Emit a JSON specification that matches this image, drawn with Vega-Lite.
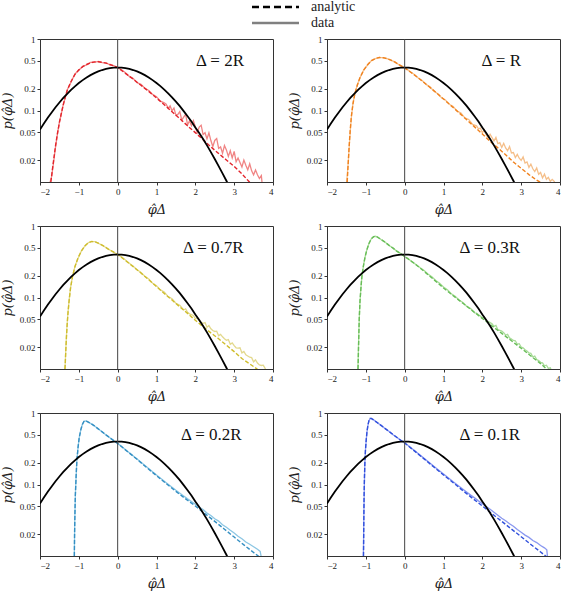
{
"$schema":"https://vega.github.io/schema/vega-lite/v6.json",
"padding":{"left":0,"top":0,"right":0,"bottom":0},
"spacing":4,
"config":{"font":"Liberation Serif","view":{"stroke":"#333","strokeWidth":1},
"axis":{"grid":false,"labelFontSize":9,"labelColor":"#222","titleFont":"DejaVu Serif","titleFontSize":13,"titleFontWeight":"normal","titleFontStyle":"italic","titleColor":"#222","domainColor":"#333","tickColor":"#333","tickSize":3,"labelPadding":2},
"axisX":{"titlePadding":7},"axisY":{"titlePadding":5}},
"datasets":{
"gauss":[{"x":-2.0,"y":0.054},{"x":-1.9,"y":0.0656},{"x":-1.8,"y":0.079},{"x":-1.7,"y":0.094},{"x":-1.6,"y":0.1109},{"x":-1.5,"y":0.1295},{"x":-1.4,"y":0.1497},{"x":-1.3,"y":0.1714},{"x":-1.2,"y":0.1942},{"x":-1.1,"y":0.2179},{"x":-1.0,"y":0.242},{"x":-0.9,"y":0.2661},{"x":-0.8,"y":0.2897},{"x":-0.7,"y":0.3123},{"x":-0.6,"y":0.3332},{"x":-0.5,"y":0.3521},{"x":-0.4,"y":0.3683},{"x":-0.3,"y":0.3814},{"x":-0.2,"y":0.391},{"x":-0.1,"y":0.397},{"x":0.0,"y":0.3989},{"x":0.1,"y":0.397},{"x":0.2,"y":0.391},{"x":0.3,"y":0.3814},{"x":0.4,"y":0.3683},{"x":0.5,"y":0.3521},{"x":0.6,"y":0.3332},{"x":0.7,"y":0.3123},{"x":0.8,"y":0.2897},{"x":0.9,"y":0.2661},{"x":1.0,"y":0.242},{"x":1.1,"y":0.219},{"x":1.2,"y":0.196},{"x":1.3,"y":0.174},{"x":1.4,"y":0.153},{"x":1.5,"y":0.133},{"x":1.6,"y":0.115},{"x":1.7,"y":0.098},{"x":1.8,"y":0.083},{"x":1.9,"y":0.07},{"x":2.0,"y":0.058},{"x":2.1,"y":0.0485},{"x":2.2,"y":0.04},{"x":2.3,"y":0.0325},{"x":2.4,"y":0.0262},{"x":2.5,"y":0.021},{"x":2.6,"y":0.0167},{"x":2.7,"y":0.0132},{"x":2.8,"y":0.0104},{"x":2.9,"y":0.0081}],
"labels":[{"p":"2R","x":2.02,"y":0.5,"t":"Δ = 2R"},{"p":"R","x":1.98,"y":0.5,"t":"Δ = R"},{"p":"0.7R","x":1.68,"y":0.5,"t":"Δ = 0.7R"},{"p":"0.3R","x":1.41,"y":0.5,"t":"Δ = 0.3R"},{"p":"0.2R","x":1.63,"y":0.5,"t":"Δ = 0.2R"},{"p":"0.1R","x":1.41,"y":0.5,"t":"Δ = 0.1R"}],
"curves":[
{"p":"2R","k":"a","x":-1.72,"y":0.01},{"p":"2R","k":"a","x":-1.68,"y":0.015},{"p":"2R","k":"a","x":-1.64,"y":0.022},{"p":"2R","k":"a","x":-1.6,"y":0.032},{"p":"2R","k":"a","x":-1.55,"y":0.048},{"p":"2R","k":"a","x":-1.5,"y":0.068},{"p":"2R","k":"a","x":-1.45,"y":0.092},{"p":"2R","k":"a","x":-1.4,"y":0.12},{"p":"2R","k":"a","x":-1.35,"y":0.155},{"p":"2R","k":"a","x":-1.3,"y":0.19},{"p":"2R","k":"a","x":-1.2,"y":0.255},{"p":"2R","k":"a","x":-1.1,"y":0.32},{"p":"2R","k":"a","x":-1.0,"y":0.37},{"p":"2R","k":"a","x":-0.9,"y":0.41},{"p":"2R","k":"a","x":-0.8,"y":0.44},{"p":"2R","k":"a","x":-0.7,"y":0.465},{"p":"2R","k":"a","x":-0.6,"y":0.478},{"p":"2R","k":"a","x":-0.5,"y":0.48},{"p":"2R","k":"a","x":-0.4,"y":0.473},{"p":"2R","k":"a","x":-0.3,"y":0.46},{"p":"2R","k":"a","x":-0.2,"y":0.44},{"p":"2R","k":"a","x":-0.1,"y":0.42},{"p":"2R","k":"a","x":0.0,"y":0.4},{"p":"2R","k":"a","x":0.2,"y":0.33},{"p":"2R","k":"a","x":0.4,"y":0.275},{"p":"2R","k":"a","x":0.6,"y":0.225},{"p":"2R","k":"a","x":0.8,"y":0.185},{"p":"2R","k":"a","x":1.0,"y":0.15},{"p":"2R","k":"a","x":1.2,"y":0.12},{"p":"2R","k":"a","x":1.4,"y":0.096},{"p":"2R","k":"a","x":1.6,"y":0.077},{"p":"2R","k":"a","x":1.8,"y":0.061},{"p":"2R","k":"a","x":2.0,"y":0.049},{"p":"2R","k":"a","x":2.2,"y":0.039},{"p":"2R","k":"a","x":2.4,"y":0.031},{"p":"2R","k":"a","x":2.6,"y":0.025},{"p":"2R","k":"a","x":2.8,"y":0.0203},{"p":"2R","k":"a","x":3.0,"y":0.0165},{"p":"2R","k":"a","x":3.2,"y":0.013},{"p":"2R","k":"a","x":3.4,"y":0.0099},
{"p":"2R","k":"d","x":-1.75,"y":0.0095},{"p":"2R","k":"d","x":-1.7,"y":0.012},{"p":"2R","k":"d","x":-1.65,"y":0.019},{"p":"2R","k":"d","x":-1.6,"y":0.031},{"p":"2R","k":"d","x":-1.55,"y":0.047},{"p":"2R","k":"d","x":-1.5,"y":0.069},{"p":"2R","k":"d","x":-1.45,"y":0.09},{"p":"2R","k":"d","x":-1.4,"y":0.123},{"p":"2R","k":"d","x":-1.35,"y":0.15},{"p":"2R","k":"d","x":-1.3,"y":0.193},{"p":"2R","k":"d","x":-1.2,"y":0.25},{"p":"2R","k":"d","x":-1.1,"y":0.325},{"p":"2R","k":"d","x":-1.0,"y":0.365},{"p":"2R","k":"d","x":-0.9,"y":0.415},{"p":"2R","k":"d","x":-0.8,"y":0.435},{"p":"2R","k":"d","x":-0.7,"y":0.47},{"p":"2R","k":"d","x":-0.6,"y":0.472},{"p":"2R","k":"d","x":-0.5,"y":0.485},{"p":"2R","k":"d","x":-0.4,"y":0.468},{"p":"2R","k":"d","x":-0.3,"y":0.465},{"p":"2R","k":"d","x":-0.2,"y":0.435},{"p":"2R","k":"d","x":-0.1,"y":0.425},{"p":"2R","k":"d","x":0.0,"y":0.395},{"p":"2R","k":"d","x":0.1,"y":0.372},{"p":"2R","k":"d","x":0.2,"y":0.338},{"p":"2R","k":"d","x":0.3,"y":0.3},{"p":"2R","k":"d","x":0.4,"y":0.28},{"p":"2R","k":"d","x":0.5,"y":0.245},{"p":"2R","k":"d","x":0.6,"y":0.232},{"p":"2R","k":"d","x":0.7,"y":0.205},{"p":"2R","k":"d","x":0.8,"y":0.19},{"p":"2R","k":"d","x":0.9,"y":0.168},{"p":"2R","k":"d","x":1.0,"y":0.156},{"p":"2R","k":"d","x":1.1,"y":0.135},{"p":"2R","k":"d","x":1.2,"y":0.128},{"p":"2R","k":"d","x":1.25,"y":0.1226},{"p":"2R","k":"d","x":1.3,"y":0.1074},{"p":"2R","k":"d","x":1.35,"y":0.1166},{"p":"2R","k":"d","x":1.4,"y":0.0989},{"p":"2R","k":"d","x":1.45,"y":0.1086},{"p":"2R","k":"d","x":1.5,"y":0.0856},{"p":"2R","k":"d","x":1.55,"y":0.088},{"p":"2R","k":"d","x":1.6,"y":0.0966},{"p":"2R","k":"d","x":1.65,"y":0.0736},{"p":"2R","k":"d","x":1.7,"y":0.0809},{"p":"2R","k":"d","x":1.75,"y":0.0888},{"p":"2R","k":"d","x":1.8,"y":0.063},{"p":"2R","k":"d","x":1.85,"y":0.0717},{"p":"2R","k":"d","x":1.9,"y":0.0614},{"p":"2R","k":"d","x":1.95,"y":0.072},{"p":"2R","k":"d","x":2.0,"y":0.0592},{"p":"2R","k":"d","x":2.05,"y":0.0489},{"p":"2R","k":"d","x":2.1,"y":0.0586},{"p":"2R","k":"d","x":2.15,"y":0.0623},{"p":"2R","k":"d","x":2.2,"y":0.0461},{"p":"2R","k":"d","x":2.25,"y":0.0489},{"p":"2R","k":"d","x":2.3,"y":0.04},{"p":"2R","k":"d","x":2.35,"y":0.0487},{"p":"2R","k":"d","x":2.4,"y":0.038},{"p":"2R","k":"d","x":2.45,"y":0.0313},{"p":"2R","k":"d","x":2.5,"y":0.0381},{"p":"2R","k":"d","x":2.55,"y":0.0406},{"p":"2R","k":"d","x":2.6,"y":0.0295},{"p":"2R","k":"d","x":2.65,"y":0.031},{"p":"2R","k":"d","x":2.7,"y":0.0252},{"p":"2R","k":"d","x":2.75,"y":0.0324},{"p":"2R","k":"d","x":2.8,"y":0.0281},{"p":"2R","k":"d","x":2.85,"y":0.0228},{"p":"2R","k":"d","x":2.9,"y":0.0273},{"p":"2R","k":"d","x":2.95,"y":0.0217},{"p":"2R","k":"d","x":3.0,"y":0.0268},{"p":"2R","k":"d","x":3.05,"y":0.0192},{"p":"2R","k":"d","x":3.1,"y":0.0217},{"p":"2R","k":"d","x":3.15,"y":0.0188},{"p":"2R","k":"d","x":3.2,"y":0.0162},{"p":"2R","k":"d","x":3.25,"y":0.0203},{"p":"2R","k":"d","x":3.3,"y":0.0172},{"p":"2R","k":"d","x":3.35,"y":0.0148},{"p":"2R","k":"d","x":3.4,"y":0.018},{"p":"2R","k":"d","x":3.45,"y":0.0143},{"p":"2R","k":"d","x":3.5,"y":0.0126},{"p":"2R","k":"d","x":3.55,"y":0.0147},{"p":"2R","k":"d","x":3.6,"y":0.0126},{"p":"2R","k":"d","x":3.65,"y":0.0112},{"p":"2R","k":"d","x":3.7,"y":0.0123},{"p":"2R","k":"d","x":3.72,"y":0.0095},
{"p":"R","k":"a","x":-1.48,"y":0.01},{"p":"R","k":"a","x":-1.46,"y":0.016},{"p":"R","k":"a","x":-1.44,"y":0.025},{"p":"R","k":"a","x":-1.42,"y":0.038},{"p":"R","k":"a","x":-1.4,"y":0.055},{"p":"R","k":"a","x":-1.37,"y":0.085},{"p":"R","k":"a","x":-1.33,"y":0.125},{"p":"R","k":"a","x":-1.28,"y":0.175},{"p":"R","k":"a","x":-1.22,"y":0.225},{"p":"R","k":"a","x":-1.15,"y":0.29},{"p":"R","k":"a","x":-1.05,"y":0.37},{"p":"R","k":"a","x":-0.95,"y":0.44},{"p":"R","k":"a","x":-0.85,"y":0.5},{"p":"R","k":"a","x":-0.75,"y":0.535},{"p":"R","k":"a","x":-0.65,"y":0.55},{"p":"R","k":"a","x":-0.55,"y":0.548},{"p":"R","k":"a","x":-0.45,"y":0.53},{"p":"R","k":"a","x":-0.35,"y":0.505},{"p":"R","k":"a","x":-0.25,"y":0.475},{"p":"R","k":"a","x":-0.15,"y":0.44},{"p":"R","k":"a","x":0.0,"y":0.395},{"p":"R","k":"a","x":0.2,"y":0.33},{"p":"R","k":"a","x":0.4,"y":0.272},{"p":"R","k":"a","x":0.6,"y":0.222},{"p":"R","k":"a","x":0.8,"y":0.18},{"p":"R","k":"a","x":1.0,"y":0.145},{"p":"R","k":"a","x":1.2,"y":0.116},{"p":"R","k":"a","x":1.4,"y":0.093},{"p":"R","k":"a","x":1.6,"y":0.074},{"p":"R","k":"a","x":1.8,"y":0.059},{"p":"R","k":"a","x":2.0,"y":0.047},{"p":"R","k":"a","x":2.2,"y":0.037},{"p":"R","k":"a","x":2.4,"y":0.03},{"p":"R","k":"a","x":2.6,"y":0.024},{"p":"R","k":"a","x":2.8,"y":0.019},{"p":"R","k":"a","x":3.0,"y":0.0155},{"p":"R","k":"a","x":3.2,"y":0.0127},{"p":"R","k":"a","x":3.4,"y":0.0106},{"p":"R","k":"a","x":3.55,"y":0.0095},
{"p":"R","k":"d","x":-1.5,"y":0.0095},{"p":"R","k":"d","x":-1.48,"y":0.012},{"p":"R","k":"d","x":-1.45,"y":0.02},{"p":"R","k":"d","x":-1.43,"y":0.03},{"p":"R","k":"d","x":-1.4,"y":0.052},{"p":"R","k":"d","x":-1.37,"y":0.083},{"p":"R","k":"d","x":-1.33,"y":0.128},{"p":"R","k":"d","x":-1.28,"y":0.172},{"p":"R","k":"d","x":-1.22,"y":0.228},{"p":"R","k":"d","x":-1.15,"y":0.287},{"p":"R","k":"d","x":-1.05,"y":0.372},{"p":"R","k":"d","x":-0.95,"y":0.436},{"p":"R","k":"d","x":-0.85,"y":0.503},{"p":"R","k":"d","x":-0.75,"y":0.531},{"p":"R","k":"d","x":-0.65,"y":0.553},{"p":"R","k":"d","x":-0.55,"y":0.545},{"p":"R","k":"d","x":-0.45,"y":0.533},{"p":"R","k":"d","x":-0.35,"y":0.502},{"p":"R","k":"d","x":-0.25,"y":0.478},{"p":"R","k":"d","x":-0.15,"y":0.437},{"p":"R","k":"d","x":-0.05,"y":0.41},{"p":"R","k":"d","x":0.05,"y":0.382},{"p":"R","k":"d","x":0.15,"y":0.345},{"p":"R","k":"d","x":0.25,"y":0.318},{"p":"R","k":"d","x":0.35,"y":0.284},{"p":"R","k":"d","x":0.45,"y":0.262},{"p":"R","k":"d","x":0.55,"y":0.232},{"p":"R","k":"d","x":0.65,"y":0.214},{"p":"R","k":"d","x":0.75,"y":0.188},{"p":"R","k":"d","x":0.85,"y":0.172},{"p":"R","k":"d","x":0.95,"y":0.151},{"p":"R","k":"d","x":1.05,"y":0.14},{"p":"R","k":"d","x":1.15,"y":0.122},{"p":"R","k":"d","x":1.25,"y":0.114},{"p":"R","k":"d","x":1.35,"y":0.098},{"p":"R","k":"d","x":1.45,"y":0.092},{"p":"R","k":"d","x":1.55,"y":0.079},{"p":"R","k":"d","x":1.65,"y":0.075},{"p":"R","k":"d","x":1.75,"y":0.064},{"p":"R","k":"d","x":1.85,"y":0.061},{"p":"R","k":"d","x":1.9,"y":0.0555},{"p":"R","k":"d","x":1.95,"y":0.0567},{"p":"R","k":"d","x":2.0,"y":0.0485},{"p":"R","k":"d","x":2.05,"y":0.0534},{"p":"R","k":"d","x":2.1,"y":0.0456},{"p":"R","k":"d","x":2.15,"y":0.0418},{"p":"R","k":"d","x":2.2,"y":0.0464},{"p":"R","k":"d","x":2.25,"y":0.0418},{"p":"R","k":"d","x":2.3,"y":0.0375},{"p":"R","k":"d","x":2.35,"y":0.042},{"p":"R","k":"d","x":2.4,"y":0.0344},{"p":"R","k":"d","x":2.45,"y":0.0354},{"p":"R","k":"d","x":2.5,"y":0.0304},{"p":"R","k":"d","x":2.55,"y":0.0347},{"p":"R","k":"d","x":2.6,"y":0.03},{"p":"R","k":"d","x":2.65,"y":0.0274},{"p":"R","k":"d","x":2.7,"y":0.0314},{"p":"R","k":"d","x":2.75,"y":0.0255},{"p":"R","k":"d","x":2.8,"y":0.0258},{"p":"R","k":"d","x":2.85,"y":0.022},{"p":"R","k":"d","x":2.9,"y":0.0243},{"p":"R","k":"d","x":2.95,"y":0.0215},{"p":"R","k":"d","x":3.0,"y":0.02},{"p":"R","k":"d","x":3.05,"y":0.0224},{"p":"R","k":"d","x":3.1,"y":0.0184},{"p":"R","k":"d","x":3.15,"y":0.0191},{"p":"R","k":"d","x":3.2,"y":0.016},{"p":"R","k":"d","x":3.25,"y":0.0178},{"p":"R","k":"d","x":3.3,"y":0.0153},{"p":"R","k":"d","x":3.35,"y":0.014},{"p":"R","k":"d","x":3.4,"y":0.0157},{"p":"R","k":"d","x":3.45,"y":0.0128},{"p":"R","k":"d","x":3.5,"y":0.0136},{"p":"R","k":"d","x":3.55,"y":0.0114},{"p":"R","k":"d","x":3.6,"y":0.0129},{"p":"R","k":"d","x":3.65,"y":0.0109},{"p":"R","k":"d","x":3.7,"y":0.0116},{"p":"R","k":"d","x":3.75,"y":0.0102},{"p":"R","k":"d","x":3.8,"y":0.0109},{"p":"R","k":"d","x":3.85,"y":0.0102},{"p":"R","k":"d","x":3.88,"y":0.0095},
{"p":"0.7R","k":"a","x":-1.355,"y":0.01},{"p":"0.7R","k":"a","x":-1.34,"y":0.016},{"p":"0.7R","k":"a","x":-1.32,"y":0.027},{"p":"0.7R","k":"a","x":-1.3,"y":0.042},{"p":"0.7R","k":"a","x":-1.28,"y":0.06},{"p":"0.7R","k":"a","x":-1.25,"y":0.09},{"p":"0.7R","k":"a","x":-1.21,"y":0.14},{"p":"0.7R","k":"a","x":-1.16,"y":0.2},{"p":"0.7R","k":"a","x":-1.1,"y":0.27},{"p":"0.7R","k":"a","x":-1.02,"y":0.36},{"p":"0.7R","k":"a","x":-0.93,"y":0.45},{"p":"0.7R","k":"a","x":-0.84,"y":0.53},{"p":"0.7R","k":"a","x":-0.75,"y":0.585},{"p":"0.7R","k":"a","x":-0.67,"y":0.61},{"p":"0.7R","k":"a","x":-0.58,"y":0.6},{"p":"0.7R","k":"a","x":-0.48,"y":0.57},{"p":"0.7R","k":"a","x":-0.38,"y":0.53},{"p":"0.7R","k":"a","x":-0.25,"y":0.48},{"p":"0.7R","k":"a","x":-0.1,"y":0.43},{"p":"0.7R","k":"a","x":0.0,"y":0.4},{"p":"0.7R","k":"a","x":0.2,"y":0.33},{"p":"0.7R","k":"a","x":0.4,"y":0.27},{"p":"0.7R","k":"a","x":0.6,"y":0.22},{"p":"0.7R","k":"a","x":0.8,"y":0.177},{"p":"0.7R","k":"a","x":1.0,"y":0.142},{"p":"0.7R","k":"a","x":1.2,"y":0.114},{"p":"0.7R","k":"a","x":1.4,"y":0.092},{"p":"0.7R","k":"a","x":1.6,"y":0.074},{"p":"0.7R","k":"a","x":1.8,"y":0.06},{"p":"0.7R","k":"a","x":2.0,"y":0.048},{"p":"0.7R","k":"a","x":2.2,"y":0.039},{"p":"0.7R","k":"a","x":2.4,"y":0.032},{"p":"0.7R","k":"a","x":2.6,"y":0.0265},{"p":"0.7R","k":"a","x":2.8,"y":0.0215},{"p":"0.7R","k":"a","x":3.0,"y":0.0175},{"p":"0.7R","k":"a","x":3.2,"y":0.014},{"p":"0.7R","k":"a","x":3.4,"y":0.0118},{"p":"0.7R","k":"a","x":3.6,"y":0.0099},
{"p":"0.7R","k":"d","x":-1.37,"y":0.0095},{"p":"0.7R","k":"d","x":-1.35,"y":0.012},{"p":"0.7R","k":"d","x":-1.33,"y":0.022},{"p":"0.7R","k":"d","x":-1.31,"y":0.036},{"p":"0.7R","k":"d","x":-1.29,"y":0.052},{"p":"0.7R","k":"d","x":-1.26,"y":0.082},{"p":"0.7R","k":"d","x":-1.22,"y":0.13},{"p":"0.7R","k":"d","x":-1.17,"y":0.19},{"p":"0.7R","k":"d","x":-1.1,"y":0.272},{"p":"0.7R","k":"d","x":-1.02,"y":0.355},{"p":"0.7R","k":"d","x":-0.93,"y":0.452},{"p":"0.7R","k":"d","x":-0.84,"y":0.527},{"p":"0.7R","k":"d","x":-0.75,"y":0.588},{"p":"0.7R","k":"d","x":-0.67,"y":0.606},{"p":"0.7R","k":"d","x":-0.58,"y":0.603},{"p":"0.7R","k":"d","x":-0.48,"y":0.566},{"p":"0.7R","k":"d","x":-0.38,"y":0.534},{"p":"0.7R","k":"d","x":-0.25,"y":0.476},{"p":"0.7R","k":"d","x":-0.12,"y":0.436},{"p":"0.7R","k":"d","x":0.0,"y":0.398},{"p":"0.7R","k":"d","x":0.1,"y":0.37},{"p":"0.7R","k":"d","x":0.2,"y":0.334},{"p":"0.7R","k":"d","x":0.3,"y":0.302},{"p":"0.7R","k":"d","x":0.4,"y":0.274},{"p":"0.7R","k":"d","x":0.5,"y":0.245},{"p":"0.7R","k":"d","x":0.6,"y":0.224},{"p":"0.7R","k":"d","x":0.7,"y":0.198},{"p":"0.7R","k":"d","x":0.8,"y":0.181},{"p":"0.7R","k":"d","x":0.9,"y":0.158},{"p":"0.7R","k":"d","x":1.0,"y":0.146},{"p":"0.7R","k":"d","x":1.1,"y":0.128},{"p":"0.7R","k":"d","x":1.2,"y":0.119},{"p":"0.7R","k":"d","x":1.3,"y":0.103},{"p":"0.7R","k":"d","x":1.4,"y":0.096},{"p":"0.7R","k":"d","x":1.5,"y":0.083},{"p":"0.7R","k":"d","x":1.6,"y":0.078},{"p":"0.7R","k":"d","x":1.7,"y":0.067},{"p":"0.7R","k":"d","x":1.75,"y":0.0695},{"p":"0.7R","k":"d","x":1.8,"y":0.062},{"p":"0.7R","k":"d","x":1.85,"y":0.059},{"p":"0.7R","k":"d","x":1.9,"y":0.0575},{"p":"0.7R","k":"d","x":1.95,"y":0.056},{"p":"0.7R","k":"d","x":2.0,"y":0.0505},{"p":"0.7R","k":"d","x":2.05,"y":0.0515},{"p":"0.7R","k":"d","x":2.1,"y":0.0475},{"p":"0.7R","k":"d","x":2.15,"y":0.045},{"p":"0.7R","k":"d","x":2.2,"y":0.0435},{"p":"0.7R","k":"d","x":2.25,"y":0.0445},{"p":"0.7R","k":"d","x":2.3,"y":0.0385},{"p":"0.7R","k":"d","x":2.35,"y":0.0405},{"p":"0.7R","k":"d","x":2.4,"y":0.0365},{"p":"0.7R","k":"d","x":2.45,"y":0.0345},{"p":"0.7R","k":"d","x":2.5,"y":0.0335},{"p":"0.7R","k":"d","x":2.55,"y":0.0338},{"p":"0.7R","k":"d","x":2.6,"y":0.0292},{"p":"0.7R","k":"d","x":2.65,"y":0.0305},{"p":"0.7R","k":"d","x":2.7,"y":0.0282},{"p":"0.7R","k":"d","x":2.75,"y":0.0265},{"p":"0.7R","k":"d","x":2.8,"y":0.0252},{"p":"0.7R","k":"d","x":2.85,"y":0.0258},{"p":"0.7R","k":"d","x":2.9,"y":0.0222},{"p":"0.7R","k":"d","x":2.95,"y":0.0232},{"p":"0.7R","k":"d","x":3.0,"y":0.0212},{"p":"0.7R","k":"d","x":3.05,"y":0.0198},{"p":"0.7R","k":"d","x":3.1,"y":0.0196},{"p":"0.7R","k":"d","x":3.15,"y":0.0198},{"p":"0.7R","k":"d","x":3.2,"y":0.0168},{"p":"0.7R","k":"d","x":3.25,"y":0.0176},{"p":"0.7R","k":"d","x":3.3,"y":0.0158},{"p":"0.7R","k":"d","x":3.35,"y":0.0152},{"p":"0.7R","k":"d","x":3.4,"y":0.0146},{"p":"0.7R","k":"d","x":3.45,"y":0.0144},{"p":"0.7R","k":"d","x":3.5,"y":0.0126},{"p":"0.7R","k":"d","x":3.55,"y":0.0134},{"p":"0.7R","k":"d","x":3.6,"y":0.0121},{"p":"0.7R","k":"d","x":3.65,"y":0.0114},{"p":"0.7R","k":"d","x":3.7,"y":0.0112},{"p":"0.7R","k":"d","x":3.75,"y":0.0113},{"p":"0.7R","k":"d","x":3.8,"y":0.0101},{"p":"0.7R","k":"d","x":3.83,"y":0.0095},
{"p":"0.3R","k":"a","x":-1.2,"y":0.01},{"p":"0.3R","k":"a","x":-1.19,"y":0.018},{"p":"0.3R","k":"a","x":-1.18,"y":0.03},{"p":"0.3R","k":"a","x":-1.17,"y":0.05},{"p":"0.3R","k":"a","x":-1.15,"y":0.09},{"p":"0.3R","k":"a","x":-1.12,"y":0.15},{"p":"0.3R","k":"a","x":-1.1,"y":0.2},{"p":"0.3R","k":"a","x":-1.06,"y":0.28},{"p":"0.3R","k":"a","x":-1.02,"y":0.37},{"p":"0.3R","k":"a","x":-0.97,"y":0.47},{"p":"0.3R","k":"a","x":-0.92,"y":0.57},{"p":"0.3R","k":"a","x":-0.86,"y":0.66},{"p":"0.3R","k":"a","x":-0.8,"y":0.71},{"p":"0.3R","k":"a","x":-0.75,"y":0.72},{"p":"0.3R","k":"a","x":-0.7,"y":0.7},{"p":"0.3R","k":"a","x":-0.6,"y":0.645},{"p":"0.3R","k":"a","x":-0.5,"y":0.59},{"p":"0.3R","k":"a","x":-0.4,"y":0.535},{"p":"0.3R","k":"a","x":-0.3,"y":0.49},{"p":"0.3R","k":"a","x":-0.2,"y":0.445},{"p":"0.3R","k":"a","x":-0.1,"y":0.41},{"p":"0.3R","k":"a","x":0.0,"y":0.375},{"p":"0.3R","k":"a","x":0.25,"y":0.3},{"p":"0.3R","k":"a","x":0.5,"y":0.232},{"p":"0.3R","k":"a","x":0.75,"y":0.178},{"p":"0.3R","k":"a","x":1.0,"y":0.136},{"p":"0.3R","k":"a","x":1.25,"y":0.106},{"p":"0.3R","k":"a","x":1.5,"y":0.083},{"p":"0.3R","k":"a","x":1.75,"y":0.065},{"p":"0.3R","k":"a","x":2.0,"y":0.051},{"p":"0.3R","k":"a","x":2.25,"y":0.04},{"p":"0.3R","k":"a","x":2.5,"y":0.0315},{"p":"0.3R","k":"a","x":2.75,"y":0.0248},{"p":"0.3R","k":"a","x":3.0,"y":0.0195},{"p":"0.3R","k":"a","x":3.25,"y":0.0152},{"p":"0.3R","k":"a","x":3.5,"y":0.0119},{"p":"0.3R","k":"a","x":3.67,"y":0.0098},
{"p":"0.3R","k":"d","x":-1.21,"y":0.0095},{"p":"0.3R","k":"d","x":-1.2,"y":0.012},{"p":"0.3R","k":"d","x":-1.19,"y":0.02},{"p":"0.3R","k":"d","x":-1.18,"y":0.032},{"p":"0.3R","k":"d","x":-1.17,"y":0.05},{"p":"0.3R","k":"d","x":-1.15,"y":0.088},{"p":"0.3R","k":"d","x":-1.12,"y":0.152},{"p":"0.3R","k":"d","x":-1.1,"y":0.198},{"p":"0.3R","k":"d","x":-1.06,"y":0.283},{"p":"0.3R","k":"d","x":-1.02,"y":0.368},{"p":"0.3R","k":"d","x":-0.97,"y":0.472},{"p":"0.3R","k":"d","x":-0.92,"y":0.565},{"p":"0.3R","k":"d","x":-0.86,"y":0.662},{"p":"0.3R","k":"d","x":-0.8,"y":0.708},{"p":"0.3R","k":"d","x":-0.75,"y":0.718},{"p":"0.3R","k":"d","x":-0.7,"y":0.702},{"p":"0.3R","k":"d","x":-0.6,"y":0.642},{"p":"0.3R","k":"d","x":-0.5,"y":0.592},{"p":"0.3R","k":"d","x":-0.4,"y":0.532},{"p":"0.3R","k":"d","x":-0.3,"y":0.492},{"p":"0.3R","k":"d","x":-0.2,"y":0.442},{"p":"0.3R","k":"d","x":-0.1,"y":0.412},{"p":"0.3R","k":"d","x":0.0,"y":0.372},{"p":"0.3R","k":"d","x":0.1,"y":0.345},{"p":"0.3R","k":"d","x":0.2,"y":0.312},{"p":"0.3R","k":"d","x":0.3,"y":0.288},{"p":"0.3R","k":"d","x":0.4,"y":0.26},{"p":"0.3R","k":"d","x":0.5,"y":0.238},{"p":"0.3R","k":"d","x":0.6,"y":0.213},{"p":"0.3R","k":"d","x":0.7,"y":0.195},{"p":"0.3R","k":"d","x":0.8,"y":0.173},{"p":"0.3R","k":"d","x":0.9,"y":0.158},{"p":"0.3R","k":"d","x":1.0,"y":0.14},{"p":"0.3R","k":"d","x":1.1,"y":0.128},{"p":"0.3R","k":"d","x":1.2,"y":0.113},{"p":"0.3R","k":"d","x":1.3,"y":0.104},{"p":"0.3R","k":"d","x":1.4,"y":0.092},{"p":"0.3R","k":"d","x":1.5,"y":0.085},{"p":"0.3R","k":"d","x":1.6,"y":0.075},{"p":"0.3R","k":"d","x":1.7,"y":0.07},{"p":"0.3R","k":"d","x":1.8,"y":0.061},{"p":"0.3R","k":"d","x":1.85,"y":0.0605},{"p":"0.3R","k":"d","x":1.9,"y":0.0575},{"p":"0.3R","k":"d","x":1.95,"y":0.055},{"p":"0.3R","k":"d","x":2.0,"y":0.0515},{"p":"0.3R","k":"d","x":2.05,"y":0.0535},{"p":"0.3R","k":"d","x":2.1,"y":0.0468},{"p":"0.3R","k":"d","x":2.15,"y":0.0462},{"p":"0.3R","k":"d","x":2.2,"y":0.0445},{"p":"0.3R","k":"d","x":2.25,"y":0.0428},{"p":"0.3R","k":"d","x":2.3,"y":0.0395},{"p":"0.3R","k":"d","x":2.35,"y":0.0408},{"p":"0.3R","k":"d","x":2.4,"y":0.0355},{"p":"0.3R","k":"d","x":2.45,"y":0.0348},{"p":"0.3R","k":"d","x":2.5,"y":0.0338},{"p":"0.3R","k":"d","x":2.55,"y":0.0322},{"p":"0.3R","k":"d","x":2.6,"y":0.0298},{"p":"0.3R","k":"d","x":2.65,"y":0.0305},{"p":"0.3R","k":"d","x":2.7,"y":0.0272},{"p":"0.3R","k":"d","x":2.75,"y":0.0262},{"p":"0.3R","k":"d","x":2.8,"y":0.0251},{"p":"0.3R","k":"d","x":2.85,"y":0.0248},{"p":"0.3R","k":"d","x":2.9,"y":0.0222},{"p":"0.3R","k":"d","x":2.95,"y":0.0226},{"p":"0.3R","k":"d","x":3.0,"y":0.0203},{"p":"0.3R","k":"d","x":3.05,"y":0.0198},{"p":"0.3R","k":"d","x":3.1,"y":0.0186},{"p":"0.3R","k":"d","x":3.15,"y":0.0179},{"p":"0.3R","k":"d","x":3.2,"y":0.0168},{"p":"0.3R","k":"d","x":3.25,"y":0.0166},{"p":"0.3R","k":"d","x":3.3,"y":0.0148},{"p":"0.3R","k":"d","x":3.35,"y":0.0152},{"p":"0.3R","k":"d","x":3.4,"y":0.0136},{"p":"0.3R","k":"d","x":3.45,"y":0.0131},{"p":"0.3R","k":"d","x":3.5,"y":0.0124},{"p":"0.3R","k":"d","x":3.55,"y":0.0122},{"p":"0.3R","k":"d","x":3.6,"y":0.0111},{"p":"0.3R","k":"d","x":3.65,"y":0.0113},{"p":"0.3R","k":"d","x":3.7,"y":0.0102},{"p":"0.3R","k":"d","x":3.75,"y":0.0104},{"p":"0.3R","k":"d","x":3.78,"y":0.0095},
{"p":"0.2R","k":"a","x":-1.115,"y":0.01},{"p":"0.2R","k":"a","x":-1.11,"y":0.02},{"p":"0.2R","k":"a","x":-1.1,"y":0.04},{"p":"0.2R","k":"a","x":-1.09,"y":0.07},{"p":"0.2R","k":"a","x":-1.07,"y":0.13},{"p":"0.2R","k":"a","x":-1.05,"y":0.22},{"p":"0.2R","k":"a","x":-1.02,"y":0.33},{"p":"0.2R","k":"a","x":-0.99,"y":0.45},{"p":"0.2R","k":"a","x":-0.95,"y":0.58},{"p":"0.2R","k":"a","x":-0.91,"y":0.69},{"p":"0.2R","k":"a","x":-0.87,"y":0.76},{"p":"0.2R","k":"a","x":-0.84,"y":0.78},{"p":"0.2R","k":"a","x":-0.8,"y":0.77},{"p":"0.2R","k":"a","x":-0.7,"y":0.72},{"p":"0.2R","k":"a","x":-0.6,"y":0.66},{"p":"0.2R","k":"a","x":-0.5,"y":0.6},{"p":"0.2R","k":"a","x":-0.4,"y":0.545},{"p":"0.2R","k":"a","x":-0.3,"y":0.495},{"p":"0.2R","k":"a","x":-0.2,"y":0.45},{"p":"0.2R","k":"a","x":-0.1,"y":0.41},{"p":"0.2R","k":"a","x":0.0,"y":0.375},{"p":"0.2R","k":"a","x":0.25,"y":0.29},{"p":"0.2R","k":"a","x":0.5,"y":0.225},{"p":"0.2R","k":"a","x":0.75,"y":0.172},{"p":"0.2R","k":"a","x":1.0,"y":0.133},{"p":"0.2R","k":"a","x":1.25,"y":0.103},{"p":"0.2R","k":"a","x":1.5,"y":0.08},{"p":"0.2R","k":"a","x":1.75,"y":0.063},{"p":"0.2R","k":"a","x":2.0,"y":0.05},{"p":"0.2R","k":"a","x":2.25,"y":0.039},{"p":"0.2R","k":"a","x":2.5,"y":0.0305},{"p":"0.2R","k":"a","x":2.75,"y":0.0237},{"p":"0.2R","k":"a","x":3.0,"y":0.0184},{"p":"0.2R","k":"a","x":3.25,"y":0.0143},{"p":"0.2R","k":"a","x":3.5,"y":0.0112},{"p":"0.2R","k":"a","x":3.65,"y":0.0097},
{"p":"0.2R","k":"d","x":-1.12,"y":0.0095},{"p":"0.2R","k":"d","x":-1.115,"y":0.012},{"p":"0.2R","k":"d","x":-1.105,"y":0.03},{"p":"0.2R","k":"d","x":-1.09,"y":0.07},{"p":"0.2R","k":"d","x":-1.07,"y":0.13},{"p":"0.2R","k":"d","x":-1.05,"y":0.22},{"p":"0.2R","k":"d","x":-1.02,"y":0.335},{"p":"0.2R","k":"d","x":-0.99,"y":0.452},{"p":"0.2R","k":"d","x":-0.95,"y":0.582},{"p":"0.2R","k":"d","x":-0.91,"y":0.688},{"p":"0.2R","k":"d","x":-0.87,"y":0.758},{"p":"0.2R","k":"d","x":-0.84,"y":0.776},{"p":"0.2R","k":"d","x":-0.8,"y":0.762},{"p":"0.2R","k":"d","x":-0.7,"y":0.716},{"p":"0.2R","k":"d","x":-0.6,"y":0.662},{"p":"0.2R","k":"d","x":-0.5,"y":0.598},{"p":"0.2R","k":"d","x":-0.4,"y":0.546},{"p":"0.2R","k":"d","x":-0.3,"y":0.493},{"p":"0.2R","k":"d","x":-0.2,"y":0.451},{"p":"0.2R","k":"d","x":-0.1,"y":0.408},{"p":"0.2R","k":"d","x":0.0,"y":0.376},{"p":"0.2R","k":"d","x":0.25,"y":0.291},{"p":"0.2R","k":"d","x":0.5,"y":0.227},{"p":"0.2R","k":"d","x":0.75,"y":0.175},{"p":"0.2R","k":"d","x":1.0,"y":0.136},{"p":"0.2R","k":"d","x":1.25,"y":0.106},{"p":"0.2R","k":"d","x":1.5,"y":0.083},{"p":"0.2R","k":"d","x":1.7,"y":0.069},{"p":"0.2R","k":"d","x":1.8,"y":0.063},{"p":"0.2R","k":"d","x":1.9,"y":0.058},{"p":"0.2R","k":"d","x":2.0,"y":0.053},{"p":"0.2R","k":"d","x":2.1,"y":0.048},{"p":"0.2R","k":"d","x":2.2,"y":0.0445},{"p":"0.2R","k":"d","x":2.3,"y":0.0398},{"p":"0.2R","k":"d","x":2.4,"y":0.0368},{"p":"0.2R","k":"d","x":2.5,"y":0.0332},{"p":"0.2R","k":"d","x":2.6,"y":0.0308},{"p":"0.2R","k":"d","x":2.7,"y":0.0274},{"p":"0.2R","k":"d","x":2.8,"y":0.0252},{"p":"0.2R","k":"d","x":2.9,"y":0.0229},{"p":"0.2R","k":"d","x":3.0,"y":0.021},{"p":"0.2R","k":"d","x":3.1,"y":0.0189},{"p":"0.2R","k":"d","x":3.2,"y":0.0174},{"p":"0.2R","k":"d","x":3.3,"y":0.0157},{"p":"0.2R","k":"d","x":3.4,"y":0.0146},{"p":"0.2R","k":"d","x":3.5,"y":0.0135},{"p":"0.2R","k":"d","x":3.6,"y":0.0124},{"p":"0.2R","k":"d","x":3.67,"y":0.0116},{"p":"0.2R","k":"d","x":3.7,"y":0.0095},
{"p":"0.1R","k":"a","x":-1.06,"y":0.01},{"p":"0.1R","k":"a","x":-1.055,"y":0.02},{"p":"0.1R","k":"a","x":-1.05,"y":0.04},{"p":"0.1R","k":"a","x":-1.045,"y":0.07},{"p":"0.1R","k":"a","x":-1.035,"y":0.13},{"p":"0.1R","k":"a","x":-1.025,"y":0.2},{"p":"0.1R","k":"a","x":-1.01,"y":0.3},{"p":"0.1R","k":"a","x":-0.99,"y":0.42},{"p":"0.1R","k":"a","x":-0.97,"y":0.55},{"p":"0.1R","k":"a","x":-0.945,"y":0.68},{"p":"0.1R","k":"a","x":-0.92,"y":0.78},{"p":"0.1R","k":"a","x":-0.89,"y":0.84},{"p":"0.1R","k":"a","x":-0.86,"y":0.84},{"p":"0.1R","k":"a","x":-0.8,"y":0.8},{"p":"0.1R","k":"a","x":-0.7,"y":0.73},{"p":"0.1R","k":"a","x":-0.6,"y":0.665},{"p":"0.1R","k":"a","x":-0.5,"y":0.605},{"p":"0.1R","k":"a","x":-0.4,"y":0.55},{"p":"0.1R","k":"a","x":-0.3,"y":0.5},{"p":"0.1R","k":"a","x":-0.2,"y":0.455},{"p":"0.1R","k":"a","x":-0.1,"y":0.415},{"p":"0.1R","k":"a","x":0.0,"y":0.38},{"p":"0.1R","k":"a","x":0.25,"y":0.295},{"p":"0.1R","k":"a","x":0.5,"y":0.228},{"p":"0.1R","k":"a","x":0.75,"y":0.176},{"p":"0.1R","k":"a","x":1.0,"y":0.136},{"p":"0.1R","k":"a","x":1.25,"y":0.106},{"p":"0.1R","k":"a","x":1.5,"y":0.082},{"p":"0.1R","k":"a","x":1.75,"y":0.064},{"p":"0.1R","k":"a","x":2.0,"y":0.05},{"p":"0.1R","k":"a","x":2.25,"y":0.039},{"p":"0.1R","k":"a","x":2.5,"y":0.0305},{"p":"0.1R","k":"a","x":2.75,"y":0.0238},{"p":"0.1R","k":"a","x":3.0,"y":0.0186},{"p":"0.1R","k":"a","x":3.25,"y":0.0145},{"p":"0.1R","k":"a","x":3.5,"y":0.0114},{"p":"0.1R","k":"a","x":3.65,"y":0.0098},
{"p":"0.1R","k":"d","x":-1.065,"y":0.0095},{"p":"0.1R","k":"d","x":-1.06,"y":0.013},{"p":"0.1R","k":"d","x":-1.05,"y":0.04},{"p":"0.1R","k":"d","x":-1.04,"y":0.09},{"p":"0.1R","k":"d","x":-1.025,"y":0.2},{"p":"0.1R","k":"d","x":-1.01,"y":0.3},{"p":"0.1R","k":"d","x":-0.99,"y":0.42},{"p":"0.1R","k":"d","x":-0.97,"y":0.55},{"p":"0.1R","k":"d","x":-0.945,"y":0.675},{"p":"0.1R","k":"d","x":-0.92,"y":0.775},{"p":"0.1R","k":"d","x":-0.89,"y":0.835},{"p":"0.1R","k":"d","x":-0.86,"y":0.838},{"p":"0.1R","k":"d","x":-0.8,"y":0.803},{"p":"0.1R","k":"d","x":-0.7,"y":0.728},{"p":"0.1R","k":"d","x":-0.6,"y":0.668},{"p":"0.1R","k":"d","x":-0.5,"y":0.602},{"p":"0.1R","k":"d","x":-0.4,"y":0.553},{"p":"0.1R","k":"d","x":-0.3,"y":0.497},{"p":"0.1R","k":"d","x":-0.2,"y":0.458},{"p":"0.1R","k":"d","x":-0.1,"y":0.413},{"p":"0.1R","k":"d","x":0.0,"y":0.383},{"p":"0.1R","k":"d","x":0.25,"y":0.298},{"p":"0.1R","k":"d","x":0.5,"y":0.232},{"p":"0.1R","k":"d","x":0.75,"y":0.18},{"p":"0.1R","k":"d","x":1.0,"y":0.14},{"p":"0.1R","k":"d","x":1.25,"y":0.109},{"p":"0.1R","k":"d","x":1.5,"y":0.086},{"p":"0.1R","k":"d","x":1.7,"y":0.071},{"p":"0.1R","k":"d","x":1.8,"y":0.065},{"p":"0.1R","k":"d","x":1.9,"y":0.059},{"p":"0.1R","k":"d","x":2.0,"y":0.054},{"p":"0.1R","k":"d","x":2.1,"y":0.049},{"p":"0.1R","k":"d","x":2.2,"y":0.045},{"p":"0.1R","k":"d","x":2.3,"y":0.041},{"p":"0.1R","k":"d","x":2.4,"y":0.0372},{"p":"0.1R","k":"d","x":2.5,"y":0.0338},{"p":"0.1R","k":"d","x":2.6,"y":0.0312},{"p":"0.1R","k":"d","x":2.7,"y":0.0282},{"p":"0.1R","k":"d","x":2.8,"y":0.026},{"p":"0.1R","k":"d","x":2.9,"y":0.0234},{"p":"0.1R","k":"d","x":3.0,"y":0.0215},{"p":"0.1R","k":"d","x":3.1,"y":0.0196},{"p":"0.1R","k":"d","x":3.2,"y":0.0182},{"p":"0.1R","k":"d","x":3.3,"y":0.0165},{"p":"0.1R","k":"d","x":3.4,"y":0.0154},{"p":"0.1R","k":"d","x":3.5,"y":0.014},{"p":"0.1R","k":"d","x":3.6,"y":0.013},{"p":"0.1R","k":"d","x":3.66,"y":0.0122},{"p":"0.1R","k":"d","x":3.68,"y":0.0095}
]},
"vconcat":[
{"spacing":13,"hconcat":[
{"width":233,"height":143,
"encoding":{"x":{"field":"x","type":"quantitative","scale":{"domain":[-2,4],"nice":false,"zero":false},"axis":{"values":[-2,-1,0,1,2,3,4],"format":"d","title":"φ̂Δ"}},"y":{"field":"y","type":"quantitative","scale":{"type":"log","domain":[0.01,1],"nice":false},"axis":{"values":[0.02,0.05,0.1,0.2,0.5,1],"format":"~g","title":"p(φ̂Δ)"}}},
"layer":[
{"data":{"values":[{"k":"a"},{"k":"d"}]},"mark":{"type":"line"},"encoding":{"color":{"field":"k","type":"nominal","scale":{"domain":["a","d"],"range":["#000000","#808080"]},"legend":{"orient":"none","legendX":228.5,"legendY":-39,"title":null,"symbolType":"M-4.7,0H4.7","symbolSize":100,"symbolStrokeWidth":2.5,"labelFontSize":14,"labelFont":"Liberation Serif","labelColor":"#222","labelOffset":28.5,"rowPadding":2,"labelExpr":"datum.value=='a' ? 'analytic' : 'data'"}},"strokeDash":{"field":"k","type":"nominal","scale":{"domain":["a","d"],"range":[[7,4],[1,0]]},"legend":{"orient":"none","legendX":228.5,"legendY":-39,"title":null,"symbolType":"M-4.7,0H4.7","symbolSize":100,"symbolStrokeWidth":2.5,"labelFontSize":14,"labelFont":"Liberation Serif","labelColor":"#222","labelOffset":28.5,"rowPadding":2,"labelExpr":"datum.value=='a' ? 'analytic' : 'data'"}}}},
{"data":{"name":"curves"},"transform":[{"filter":"datum.p=='2R' && datum.k=='d'"}],"mark":{"type":"line","clip":true,"color":"#f08585","strokeWidth":1.3}},
{"data":{"name":"curves"},"transform":[{"filter":"datum.p=='2R' && datum.k=='a'"}],"mark":{"type":"line","clip":true,"color":"#e3242b","strokeWidth":1.4,"strokeDash":[4,2]}},
{"data":{"name":"gauss"},"mark":{"type":"line","clip":true,"color":"#000","strokeWidth":1.8}},
{"data":{"values":[{"x":0,"y":0.01,"y2":1}]},"mark":{"type":"rule","color":"#444","strokeWidth":1},"encoding":{"y2":{"field":"y2"}}},
{"data":{"name":"labels"},"transform":[{"filter":"datum.p=='2R'"}],"mark":{"type":"text","align":"left","baseline":"middle","fontSize":17,"color":"#111"},"encoding":{"text":{"field":"t"}}}
]},
{"width":233,"height":143,
"encoding":{"x":{"field":"x","type":"quantitative","scale":{"domain":[-2,4],"nice":false,"zero":false},"axis":{"values":[-2,-1,0,1,2,3,4],"format":"d","title":"φ̂Δ"}},"y":{"field":"y","type":"quantitative","scale":{"type":"log","domain":[0.01,1],"nice":false},"axis":{"values":[0.02,0.05,0.1,0.2,0.5,1],"format":"~g","title":"p(φ̂Δ)"}}},
"layer":[
{"data":{"name":"curves"},"transform":[{"filter":"datum.p=='R' && datum.k=='d'"}],"mark":{"type":"line","clip":true,"color":"#f5bf8a","strokeWidth":1.3}},
{"data":{"name":"curves"},"transform":[{"filter":"datum.p=='R' && datum.k=='a'"}],"mark":{"type":"line","clip":true,"color":"#f0821e","strokeWidth":1.4,"strokeDash":[4,2]}},
{"data":{"name":"gauss"},"mark":{"type":"line","clip":true,"color":"#000","strokeWidth":1.8}},
{"data":{"values":[{"x":0,"y":0.01,"y2":1}]},"mark":{"type":"rule","color":"#444","strokeWidth":1},"encoding":{"y2":{"field":"y2"}}},
{"data":{"name":"labels"},"transform":[{"filter":"datum.p=='R'"}],"mark":{"type":"text","align":"left","baseline":"middle","fontSize":17,"color":"#111"},"encoding":{"text":{"field":"t"}}}
]}
]},
{"spacing":13,"hconcat":[
{"width":233,"height":143,
"encoding":{"x":{"field":"x","type":"quantitative","scale":{"domain":[-2,4],"nice":false,"zero":false},"axis":{"values":[-2,-1,0,1,2,3,4],"format":"d","title":"φ̂Δ"}},"y":{"field":"y","type":"quantitative","scale":{"type":"log","domain":[0.01,1],"nice":false},"axis":{"values":[0.02,0.05,0.1,0.2,0.5,1],"format":"~g","title":"p(φ̂Δ)"}}},
"layer":[
{"data":{"name":"curves"},"transform":[{"filter":"datum.p=='0.7R' && datum.k=='d'"}],"mark":{"type":"line","clip":true,"color":"#e3d98e","strokeWidth":1.3}},
{"data":{"name":"curves"},"transform":[{"filter":"datum.p=='0.7R' && datum.k=='a'"}],"mark":{"type":"line","clip":true,"color":"#cfbd2c","strokeWidth":1.4,"strokeDash":[4,2]}},
{"data":{"name":"gauss"},"mark":{"type":"line","clip":true,"color":"#000","strokeWidth":1.8}},
{"data":{"values":[{"x":0,"y":0.01,"y2":1}]},"mark":{"type":"rule","color":"#444","strokeWidth":1},"encoding":{"y2":{"field":"y2"}}},
{"data":{"name":"labels"},"transform":[{"filter":"datum.p=='0.7R'"}],"mark":{"type":"text","align":"left","baseline":"middle","fontSize":17,"color":"#111"},"encoding":{"text":{"field":"t"}}}
]},
{"width":233,"height":143,
"encoding":{"x":{"field":"x","type":"quantitative","scale":{"domain":[-2,4],"nice":false,"zero":false},"axis":{"values":[-2,-1,0,1,2,3,4],"format":"d","title":"φ̂Δ"}},"y":{"field":"y","type":"quantitative","scale":{"type":"log","domain":[0.01,1],"nice":false},"axis":{"values":[0.02,0.05,0.1,0.2,0.5,1],"format":"~g","title":"p(φ̂Δ)"}}},
"layer":[
{"data":{"name":"curves"},"transform":[{"filter":"datum.p=='0.3R' && datum.k=='d'"}],"mark":{"type":"line","clip":true,"color":"#a9dc99","strokeWidth":1.3}},
{"data":{"name":"curves"},"transform":[{"filter":"datum.p=='0.3R' && datum.k=='a'"}],"mark":{"type":"line","clip":true,"color":"#68bd58","strokeWidth":1.4,"strokeDash":[4,2]}},
{"data":{"name":"gauss"},"mark":{"type":"line","clip":true,"color":"#000","strokeWidth":1.8}},
{"data":{"values":[{"x":0,"y":0.01,"y2":1}]},"mark":{"type":"rule","color":"#444","strokeWidth":1},"encoding":{"y2":{"field":"y2"}}},
{"data":{"name":"labels"},"transform":[{"filter":"datum.p=='0.3R'"}],"mark":{"type":"text","align":"left","baseline":"middle","fontSize":17,"color":"#111"},"encoding":{"text":{"field":"t"}}}
]}
]},
{"spacing":13,"hconcat":[
{"width":233,"height":143,
"encoding":{"x":{"field":"x","type":"quantitative","scale":{"domain":[-2,4],"nice":false,"zero":false},"axis":{"values":[-2,-1,0,1,2,3,4],"format":"d","title":"φ̂Δ"}},"y":{"field":"y","type":"quantitative","scale":{"type":"log","domain":[0.01,1],"nice":false},"axis":{"values":[0.02,0.05,0.1,0.2,0.5,1],"format":"~g","title":"p(φ̂Δ)"}}},
"layer":[
{"data":{"name":"curves"},"transform":[{"filter":"datum.p=='0.2R' && datum.k=='d'"}],"mark":{"type":"line","clip":true,"color":"#8cc6e3","strokeWidth":1.3}},
{"data":{"name":"curves"},"transform":[{"filter":"datum.p=='0.2R' && datum.k=='a'"}],"mark":{"type":"line","clip":true,"color":"#348fc3","strokeWidth":1.4,"strokeDash":[4,2]}},
{"data":{"name":"gauss"},"mark":{"type":"line","clip":true,"color":"#000","strokeWidth":1.8}},
{"data":{"values":[{"x":0,"y":0.01,"y2":1}]},"mark":{"type":"rule","color":"#444","strokeWidth":1},"encoding":{"y2":{"field":"y2"}}},
{"data":{"name":"labels"},"transform":[{"filter":"datum.p=='0.2R'"}],"mark":{"type":"text","align":"left","baseline":"middle","fontSize":17,"color":"#111"},"encoding":{"text":{"field":"t"}}}
]},
{"width":233,"height":143,
"encoding":{"x":{"field":"x","type":"quantitative","scale":{"domain":[-2,4],"nice":false,"zero":false},"axis":{"values":[-2,-1,0,1,2,3,4],"format":"d","title":"φ̂Δ"}},"y":{"field":"y","type":"quantitative","scale":{"type":"log","domain":[0.01,1],"nice":false},"axis":{"values":[0.02,0.05,0.1,0.2,0.5,1],"format":"~g","title":"p(φ̂Δ)"}}},
"layer":[
{"data":{"name":"curves"},"transform":[{"filter":"datum.p=='0.1R' && datum.k=='d'"}],"mark":{"type":"line","clip":true,"color":"#8a98f0","strokeWidth":1.3}},
{"data":{"name":"curves"},"transform":[{"filter":"datum.p=='0.1R' && datum.k=='a'"}],"mark":{"type":"line","clip":true,"color":"#3050dc","strokeWidth":1.4,"strokeDash":[4,2]}},
{"data":{"name":"gauss"},"mark":{"type":"line","clip":true,"color":"#000","strokeWidth":1.8}},
{"data":{"values":[{"x":0,"y":0.01,"y2":1}]},"mark":{"type":"rule","color":"#444","strokeWidth":1},"encoding":{"y2":{"field":"y2"}}},
{"data":{"name":"labels"},"transform":[{"filter":"datum.p=='0.1R'"}],"mark":{"type":"text","align":"left","baseline":"middle","fontSize":17,"color":"#111"},"encoding":{"text":{"field":"t"}}}
]}
]}
]
}
